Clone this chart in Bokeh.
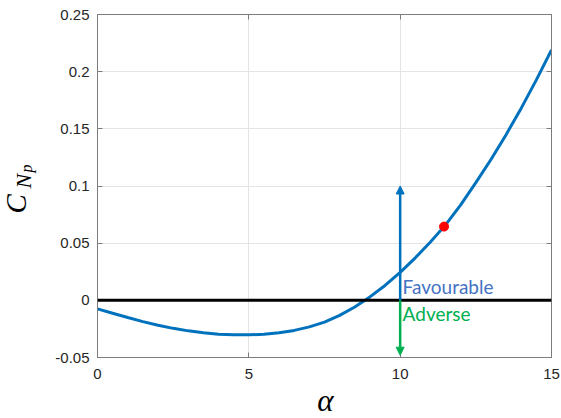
from bokeh.plotting import figure
from bokeh.models import (ColumnDataSource, FixedTicker, LinearAxis, Range1d,
                          Label, Arrow, NormalHead, Span)
from bokeh.embed import file_html
from bokeh.resources import INLINE

# Yaw-moment coefficient due to the propeller versus angle of attack
alpha = [0.0, 0.5, 1.0, 1.5, 2.0, 2.5, 3.0, 3.5, 4.0, 4.5,
         5.0, 5.5, 6.0, 6.5, 7.0, 7.5, 8.0, 8.5, 9.0, 9.5,
         10.0, 10.5, 11.0, 11.5, 12.0, 12.5, 13.0, 13.5, 14.0, 14.5, 15.0]
c_np = [-0.0075, -0.0113, -0.0150, -0.0186, -0.0218, -0.0245, -0.0267, -0.0284, -0.0296, -0.0302,
        -0.0302, -0.0296, -0.0284, -0.0263, -0.0232, -0.0190, -0.0132, -0.0058, 0.0030, 0.0130,
        0.0245, 0.0372, 0.0510, 0.0660, 0.0835, 0.1030, 0.1232, 0.1449, 0.1681, 0.1928, 0.2190]

# Operating point
point_alpha = [11.45]
point_c = [0.0645]

# Favourable / adverse indicator arrows at alpha = 10
arrow_alpha = 10.0
arrow_up_to = 0.10
arrow_down_to = -0.048

x_ticks = [0, 5, 10, 15]
x_tick_labels = ["0", "5", "10", "15"]
y_ticks = [-0.05, 0, 0.05, 0.1, 0.15, 0.2, 0.25]
y_tick_labels = ["-0.05", "0", "0.05", "0.1", "0.15", "0.2", "0.25"]

AXIS_GREY = "#7c7c7c"
TICK_TEXT = "#262626"
CURVE_BLUE = "#0072BD"
FAV_BLUE = "#4472C4"
ADV_GREEN = "#00B050"
SERIF = "Liberation Serif"

p = figure(width=561, height=418, output_backend="svg", toolbar_location=None,
           x_range=Range1d(0, 15), y_range=Range1d(-0.05, 0.25),
           min_border_left=97, min_border_right=10,
           min_border_top=14, min_border_bottom=61)
p.background_fill_color = "white"
p.border_fill_color = "white"
p.outline_line_color = AXIS_GREY
p.outline_line_width = 1

# Grid
p.xgrid.ticker = FixedTicker(ticks=x_ticks)
p.ygrid.ticker = FixedTicker(ticks=y_ticks)
for g in (p.xgrid, p.ygrid):
    g.grid_line_color = "#e4e4e4"
    g.grid_line_width = 1

# Axes with inward ticks
def style_axis(ax, ticks, labels, standoff):
    ax.ticker = FixedTicker(ticks=ticks)
    ax.major_label_overrides = {t: l for t, l in zip(ticks, labels)}
    ax.major_tick_in = 5
    ax.major_tick_out = 0
    ax.minor_tick_in = 0
    ax.minor_tick_out = 0
    ax.axis_line_color = AXIS_GREY
    ax.major_tick_line_color = AXIS_GREY
    ax.major_label_text_font = "Liberation Sans"
    ax.major_label_text_font_size = "15px"
    ax.major_label_text_color = TICK_TEXT
    ax.major_label_standoff = standoff

style_axis(p.xaxis[0], x_ticks, x_tick_labels, 11)
style_axis(p.yaxis[0], y_ticks, y_tick_labels, 8)

# Tick marks on the top and right edges of the box, without labels
top_axis = LinearAxis()
right_axis = LinearAxis()
style_axis(top_axis, x_ticks, [""] * len(x_ticks), 0)
style_axis(right_axis, y_ticks, [""] * len(y_ticks), 0)
p.add_layout(top_axis, "above")
p.add_layout(right_axis, "right")

# Zero reference line
p.add_layout(Span(location=0, dimension="width", line_color="black", line_width=3))

# Curve and operating point
src = ColumnDataSource(data=dict(alpha=alpha, c=c_np))
p.line("alpha", "c", source=src, line_color=CURVE_BLUE, line_width=3)
p.scatter(point_alpha, point_c, size=9, fill_color="red", line_color="red")

# Arrows
p.add_layout(Arrow(end=NormalHead(size=8, fill_color=CURVE_BLUE, line_color=CURVE_BLUE),
                   x_start=arrow_alpha, y_start=0, x_end=arrow_alpha, y_end=arrow_up_to,
                   line_color=CURVE_BLUE, line_width=2.5))
p.add_layout(Arrow(end=NormalHead(size=8, fill_color=ADV_GREEN, line_color=ADV_GREEN),
                   x_start=arrow_alpha, y_start=0, x_end=arrow_alpha, y_end=arrow_down_to,
                   line_color=ADV_GREEN, line_width=2.5))

p.add_layout(Label(x=10.08, y=0.0123, text="Favourable", text_font="Lato",
                   text_font_size="19px", text_color=FAV_BLUE,
                   text_align="left", text_baseline="alphabetic"))
p.add_layout(Label(x=10.08, y=-0.0115, text="Adverse", text_font="Lato",
                   text_font_size="19px", text_color=ADV_GREEN,
                   text_align="left", text_baseline="alphabetic"))

# Axis titles. They sit in the side panels (so they are not clipped to the
# frame) and are positioned in data units; the y title C_{N_p} is built from
# pieces for the subscript and sub-subscript.
def title_piece(txt, xv, yv, size, angle, align, side):
    p.add_layout(Label(x=xv, y=yv, text=txt, text_font=SERIF, text_font_style="italic",
                       text_font_size=size, text_color="black", angle=angle,
                       text_align=align, text_baseline="alphabetic"), side)

title_piece("α", 7.53, -0.0872, "31px", 0, "center", "left")
title_piece("C", -2.70, 0.0759, "29px", 1.5708, "left", "left")
title_piece("N", -2.45, 0.0978, "22px", 1.5708, "left", "below")
title_piece("p", -2.34, 0.1118, "16px", 1.5708, "left", "below")

open("out.html", "w").write(file_html(p, INLINE))
